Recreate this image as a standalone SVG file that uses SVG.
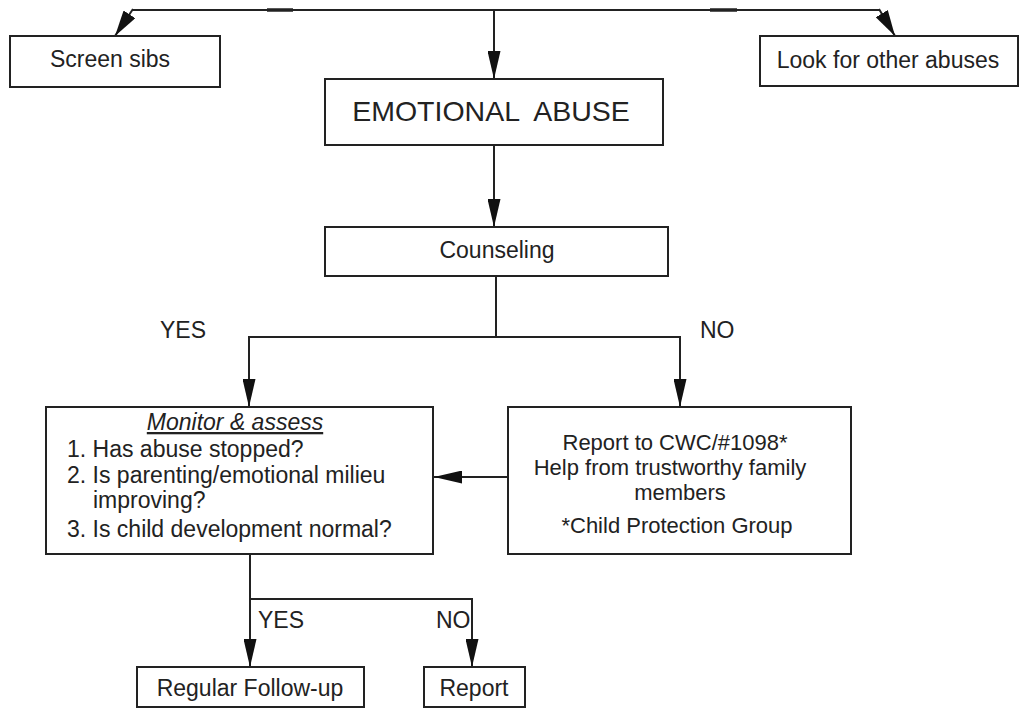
<svg xmlns="http://www.w3.org/2000/svg" width="1024" height="709" viewBox="0 0 1024 709">
<defs>
<marker id="ah" markerUnits="userSpaceOnUse" viewBox="0 0 28 13" refX="28" refY="6.5" markerWidth="28" markerHeight="13" orient="auto">
<path d="M0,0 L28,6.5 L0,13 z" fill="#111"/>
</marker>
<marker id="ahs" markerUnits="userSpaceOnUse" viewBox="0 0 26 14" refX="26" refY="7" markerWidth="26" markerHeight="14" orient="auto">
<path d="M0,0 L26,7 L0,14 z" fill="#111"/>
</marker>
</defs>
<style>
rect{fill:#fff;stroke:#222;stroke-width:2}
text{font-family:"Liberation Sans",Arial,sans-serif;font-size:23px;fill:#222}
.c{text-anchor:middle}
.ln{fill:none;stroke:#222;stroke-width:2}
</style>
<rect width="1024" height="709" style="fill:#fff;stroke:none"/>
<g id="connectors">
<polyline class="ln" points="132,10 880,10"/>
<line class="ln" x1="267" y1="10" x2="293" y2="10" style="stroke-width:3.5"/>
<line class="ln" x1="710" y1="10" x2="737" y2="10" style="stroke-width:3.5"/>
<line class="ln" x1="133" y1="9" x2="115" y2="36" marker-end="url(#ahs)"/>
<line class="ln" x1="879" y1="9" x2="895" y2="36" marker-end="url(#ahs)"/>
<line class="ln" x1="494" y1="10" x2="494" y2="79" marker-end="url(#ah)"/>
<line class="ln" x1="494" y1="145" x2="494" y2="227" marker-end="url(#ah)"/>
<polyline class="ln" points="496,276 496,337"/>
<polyline class="ln" points="249,337 680,337"/>
<line class="ln" x1="249" y1="336" x2="249" y2="407" marker-end="url(#ah)"/>
<line class="ln" x1="680" y1="336" x2="680" y2="407" marker-end="url(#ah)"/>
<line class="ln" x1="508" y1="477" x2="434" y2="477" marker-end="url(#ah)"/>
<line class="ln" x1="250" y1="554" x2="250" y2="667" marker-end="url(#ah)"/>
<polyline class="ln" points="250,599 472,599 472,667" marker-end="url(#ah)"/>
</g>
<g id="labels">
<text x="160" y="338">YES</text>
<text x="700" y="338">NO</text>
<text x="258" y="628">YES</text>
<text x="436" y="628">NO</text>
</g>
<g id="screen-sibs">
<rect x="10" y="36" width="210" height="51"/>
<text class="c" x="110" y="67">Screen sibs</text>
</g>
<g id="look-other">
<rect x="760" y="36" width="258" height="50"/>
<text class="c" x="888" y="68">Look for other abuses</text>
</g>
<g id="emotional-abuse">
<rect x="325" y="79" width="338" height="66"/>
<text class="c" x="491" y="121" style="font-size:28.5px" xml:space="preserve">EMOTIONAL  ABUSE</text>
</g>
<g id="counseling">
<rect x="325" y="227" width="343" height="49"/>
<text class="c" x="497" y="258">Counseling</text>
</g>
<g id="monitor">
<rect x="46" y="407" width="387" height="147"/>
<text class="c" x="235" y="430" style="font-style:italic;text-decoration:underline">Monitor &amp; assess</text>
<text x="67" y="457">1. Has abuse stopped?</text>
<text x="67" y="483">2. Is parenting/emotional milieu</text>
<text x="93" y="508">improving?</text>
<text x="67" y="537">3. Is child development normal?</text>
</g>
<g id="report-cwc" style="font-size:22px">
<rect x="508" y="407" width="343" height="147"/>
<text class="c" x="675" y="450" style="font-size:22px">Report to CWC/#1098*</text>
<text class="c" x="670" y="475" style="font-size:22px">Help from trustworthy family</text>
<text class="c" x="680" y="500" style="font-size:22px">members</text>
<text class="c" x="677" y="533" style="font-size:22px">*Child Protection Group</text>
</g>
<g id="regular-followup">
<rect x="137" y="667" width="227" height="40"/>
<text class="c" x="250" y="696">Regular Follow-up</text>
</g>
<g id="report">
<rect x="424" y="667" width="101" height="40"/>
<text class="c" x="474" y="696">Report</text>
</g>
</svg>
